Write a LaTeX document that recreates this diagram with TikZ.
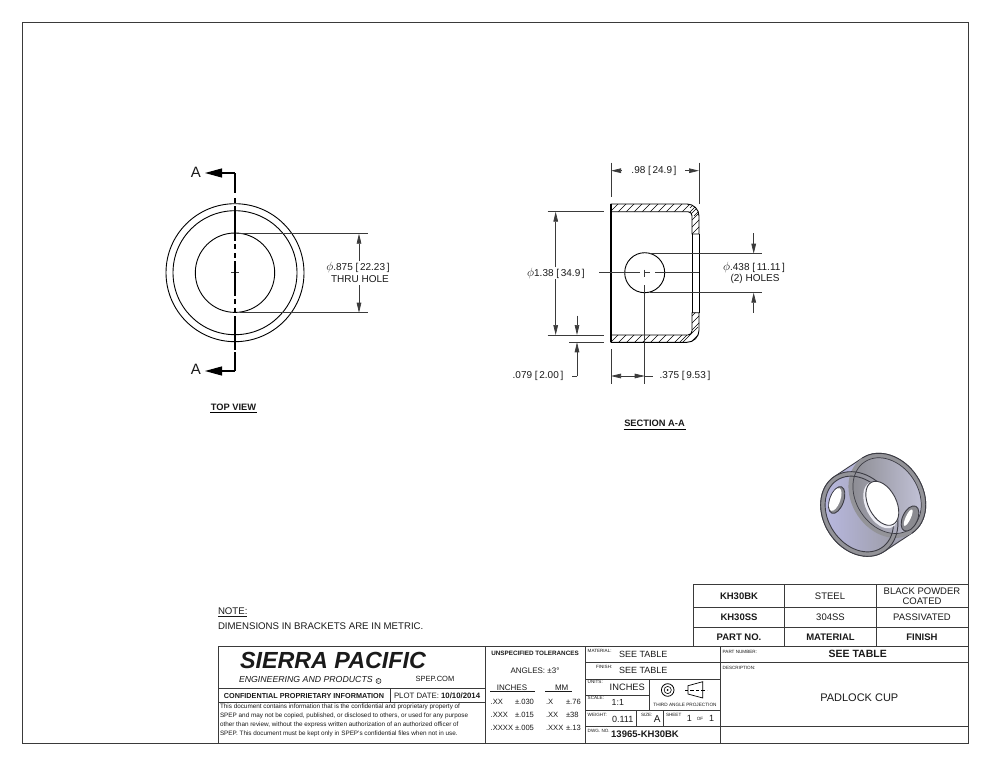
\documentclass[tikz,border=0pt]{standalone}
\usepackage{fontspec}
\setmainfont{Liberation Sans}
\usetikzlibrary{arrows.meta}
\definecolor{ink}{HTML}{1A1A1A}
\definecolor{dimc}{HTML}{3A3A3A}
\definecolor{isoedge}{HTML}{3C3C44}
\definecolor{isoring}{HTML}{939398}
\definecolor{isoblue}{HTML}{B9B9E2}
\definecolor{isolow}{HTML}{9C9CA6}
\definecolor{isoface}{HTML}{8A8A90}
\definecolor{isopale}{HTML}{C4C4DA}
\newcommand{\fs}[1]{\fontsize{#1}{#1}\selectfont}
\newcommand{\phisym}{{\fontsize{12}{12}\selectfont$\phi$}}
\newcommand{\Tc}[5][]{\node[tx,#1] (#2) at (#3,#4) {#5};}
\newcommand{\Tl}[5][]{\node[tx,anchor=west,#1] (#2) at (#3,#4) {#5};}
\tikzset{
  tx/.style={inner sep=0pt,outer sep=0pt,text=ink,font=\fs{9.5}},
  dimtx/.style={font=\fs{10}},
  tiny/.style={font=\fs{4.6}},
  obj/.style={draw=black,line width=0.9pt},
  frameline/.style={draw=dimc,line width=1pt},
  dimline/.style={draw=dimc,line width=0.7pt},
  darrow/.style={-{Triangle[length=10pt,width=4.6pt]}},
  bigarrow/.style={-{Triangle[length=17pt,width=9pt]}},
  cutline/.style={draw=black,line width=1.1pt},
  isoline/.style={draw=isoedge,line width=0.9pt},
}
\begin{document}
\begin{tikzpicture}[x=1pt,y=-1pt]
\useasboundingbox (0,0) rectangle (990,765);
\fill[white] (0,0) rectangle (990,765);
% sheet border
\draw[frameline,line width=0.8pt] (22,22) rectangle (968,743);

% ---- top view
\draw[obj] (235,272.7) circle[radius=69];
\draw[obj] (235,272.7) circle[radius=62];
\draw[obj] (235,272.7) circle[radius=39.7];
\draw[dimline] (231,272.7) -- (239,272.7);
\draw[cutline] (235,173) -- (235,193);
\draw[cutline,dash pattern=on 35pt off 3pt on 5pt off 4pt on 5pt off 3pt,dash phase=47pt] (235,198) -- (235,350);
\draw[cutline] (235,352) -- (235,371);
\draw[cutline,bigarrow] (235,173) -- (205,173);
\draw[cutline,bigarrow] (235,371) -- (205,371);
\Tc[font=\fs{15}]{a1}{196}{172}{A}
\Tc[font=\fs{15}]{a2}{196}{369}{A}
\draw[dimline] (237,233.7) -- (367.7,233.7);
\draw[dimline] (240,312.7) -- (367.7,312.7);
\draw[dimline,darrow] (359,261) -- (359,233.7);
\draw[dimline,darrow] (359,285) -- (359,312.7);
\Tc[dimtx]{d1}{358}{267}{\phisym.875 [\,22.23\,]}
\Tc[dimtx]{d2}{360}{279}{THRU HOLE}
\Tc[font=\fs{9.3}\bfseries]{tv}{233.5}{407}{TOP VIEW}
\draw[black,line width=1pt] (210,412.6) -- (257,412.6);

% ---- section A-A
\def\wallA{(611,204) -- (687,204) .. controls (693.6,204) and (699,209.4) .. (699,216) -- (699,234) -- (692,234) -- (692,215.7) .. controls (692,213.5) and (690.2,211.7) .. (688,211.7) -- (611,211.7) -- cycle}
\def\wallB{(611,342.3) -- (687,342.3) .. controls (693.6,342.3) and (699,336.9) .. (699,330.3) -- (699,312.7) -- (692,312.7) -- (692,331) .. controls (692,333.2) and (690.2,335) .. (688,335) -- (611,335) -- cycle}
\begin{scope}
\clip \wallA;
\foreach \i in {0,8,...,104}{\draw[black,line width=0.6pt] (606+\i,216) -- (606+\i+20,196);}
\foreach \i in {0,7,...,35}{\draw[black,line width=0.6pt] (690,236-\i) -- (702,224-\i);}
\end{scope}
\begin{scope}
\clip \wallB;
\foreach \i in {0,8,...,104}{\draw[black,line width=0.6pt] (606+\i,347) -- (606+\i+20,327);}
\foreach \i in {0,7,...,35}{\draw[black,line width=0.6pt] (680,342-\i) -- (702,320-\i);}
\end{scope}
\draw[obj] \wallA;
\draw[obj] \wallB;
\draw[obj,line width=1.2pt] (611,204) -- (611,342.3);
\draw[obj] (692,234) -- (692,312.7);
\draw[obj] (699,234) -- (699,312.7);
\draw[obj] (644.7,272.7) circle[radius=20];
\draw[dimline] (599,272.7) -- (639.5,272.7);
\draw[dimline] (644,272.7) -- (650,272.7);
\draw[dimline] (655,272.7) -- (699,272.7);
\draw[dimline] (644.7,269.5) -- (644.7,276.5);
\draw[dimline] (644.7,285) -- (644.7,384);
% .98
\draw[dimline] (611,162.7) -- (611,197);
\draw[dimline] (699,162.7) -- (699,204);
\draw[dimline,darrow] (621,170.7) -- (611,170.7);
\draw[dimline,darrow] (685,170.7) -- (699,170.7);
\Tc[dimtx]{d3}{654}{171}{.98 [\,24.9\,]}
% 1.38
\draw[dimline] (547.7,211.7) -- (604,211.7);
\draw[dimline] (547.7,335) -- (604,335);
\draw[dimline,darrow] (555.7,267) -- (555.7,211.7);
\draw[dimline,darrow] (555.7,279) -- (555.7,335);
\Tc[dimtx,fill=white]{d4}{556}{273}{\phisym1.38 [\,34.9\,]}
% .079
\draw[dimline] (569,342.3) -- (604,342.3);
\draw[dimline,darrow] (577,315.7) -- (577,335);
\draw[dimline,-{Triangle[length=10pt,width=4.6pt]}] (577,376) -- (577,342.3);
\draw[dimline] (577,376) -- (571.7,376);
\Tc[dimtx]{d5}{538}{376}{.079 [\,2.00\,]}
% .375
\draw[dimline] (611,349) -- (611,384);
\draw[dimline,darrow] (625,376) -- (611,376);
\draw[dimline,darrow] (631,376) -- (644.7,376);
\draw[dimline] (625,376) -- (631,376);
\draw[dimline] (644.7,376) -- (653,376);
\Tc[dimtx]{d6}{685}{376}{.375 [\,9.53\,]}
% .438
\draw[dimline] (650,253.7) -- (762,253.7);
\draw[dimline] (650,292.7) -- (762,292.7);
\draw[dimline,darrow] (753.7,233) -- (753.7,253.7);
\draw[dimline,darrow] (753.7,312.7) -- (753.7,292.7);
\Tc[dimtx]{d7}{754}{267.5}{\phisym.438 [\,11.11\,]}
\Tc[dimtx]{d8}{755}{279}{(2) HOLES}
\Tc[font=\fs{9.3}\bfseries]{sv}{654.5}{423.5}{SECTION A-A}
\draw[black,line width=1pt] (623.5,429) -- (686,429);

% ---- isometric view
\begin{scope}[x=1pt,y=1pt,shift={(859.3pt,-514pt)},rotate=-56.5]
  % cylinder silhouette
  \path[shade,left color=isoblue,right color=isolow,shading angle=0,isoline]
     (-45,0) -- (-45,33.3) arc[start angle=180,end angle=0,x radius=45,y radius=35.5] -- (45,0) arc[start angle=0,end angle=-180,x radius=45,y radius=35.5] -- cycle;
  % lower-left end: ring, then lit interior
  \path[fill=isoring,even odd rule] (0,0) ellipse[x radius=45,y radius=35.5] (0,0) ellipse[x radius=40.5,y radius=31];
  \path[shade,left color=isoblue,right color=isolow] (0,0) ellipse[x radius=40.5,y radius=31];
  % upper-right end: ring and face
  \path[fill=isoring,even odd rule] (0,33.3) ellipse[x radius=45,y radius=35.5] (0,33.3) ellipse[x radius=40.5,y radius=31];
  \path[shade,left color=isoface,right color=isopale] (0,33.3) ellipse[x radius=40.5,y radius=31];
  % outlines
  \draw[isoline] (0,0) ellipse[x radius=40.5,y radius=31];
  \draw[isoline,line width=0.7pt] (0,33.3) ellipse[x radius=40.5,y radius=31];
  \draw[isoline] (-45,33.3) arc[start angle=180,end angle=0,x radius=45,y radius=35.5];
  \draw[isoline] (0,0) ellipse[x radius=45,y radius=35.5];
\end{scope}
% through hole
\begin{scope}[x=1pt,y=1pt,shift={(880.8pt,-505pt)},rotate=-63]
  \path[fill=white!70!isopale] (0,0) ellipse[x radius=25,y radius=15];
\end{scope}
\begin{scope}[x=1pt,y=1pt,shift={(882.3pt,-503.3pt)},rotate=-63]
  \path[fill=white,isoline] (0,0) ellipse[x radius=23.7,y radius=14];
\end{scope}
\begin{scope}[x=1pt,y=1pt,shift={(836.7pt,-500pt)},rotate=70]
  \path[fill=isoface,isoline] (0,0) ellipse[x radius=14,y radius=7];
  \path[fill=white] (0,1.5) ellipse[x radius=12,y radius=5];
\end{scope}
\begin{scope}[x=1pt,y=1pt,shift={(910pt,-518.5pt)},rotate=65]
  \path[fill=isoface,isoline] (0,0) ellipse[x radius=13.5,y radius=7.5];
  \path[fill=white] (0,2) ellipse[x radius=9,y radius=2.5];
\end{scope}

% ---- finish table
\draw[frameline] (693.3,584.3) -- (968,584.3);
\draw[frameline] (693.3,607.7) -- (968,607.7);
\draw[frameline] (693.3,627.3) -- (968,627.3);
\draw[frameline] (693.3,584.3) -- (693.3,646);
\draw[frameline] (784.3,584.3) -- (784.3,646);
\draw[frameline] (876.7,584.3) -- (876.7,646);
\Tc[font=\fs{9.5}\bfseries]{k1}{739}{596.7}{KH30BK}
\Tc[font=\fs{9.5}]{k2}{830}{596.7}{STEEL}
\Tc[font=\fs{9.5}]{k3}{922}{591.7}{BLACK POWDER}
\Tc[font=\fs{9.5}]{k4}{922}{601}{COATED}
\Tc[font=\fs{9.5}\bfseries]{k5}{739}{617.7}{KH30SS}
\Tc[font=\fs{9.5}]{k6}{830.5}{617.7}{304SS}
\Tc[font=\fs{9.5}]{k7}{922}{617.7}{PASSIVATED}
\Tc[font=\fs{9.5}\bfseries]{k8}{739}{637.3}{PART NO.}
\Tc[font=\fs{9.5}\bfseries]{k9}{830.5}{637.3}{MATERIAL}
\Tc[font=\fs{9.5}\bfseries]{k10}{922}{637.3}{FINISH}

% ---- notes
\Tl[font=\fs{9.65}]{n1}{218}{611}{NOTE:}
\draw[ink,line width=0.7pt] (218,616.5) -- (247,616.5);
\Tl[font=\fs{9.65}]{n2}{218}{626}{DIMENSIONS IN BRACKETS ARE IN METRIC.}

% ---- title block
\draw[frameline] (218,646) rectangle (968,743);
\draw[frameline] (485,646) -- (485,743);
\draw[frameline] (585,646) -- (585,743);
\draw[frameline] (720,646) -- (720,743);
\draw[frameline] (218,688) -- (485,688);
\draw[frameline] (218,702.7) -- (485,702.7);
\draw[frameline] (390,688) -- (390,702.7);
\draw[frameline] (585,662.7) -- (720,662.7);
\draw[frameline] (585,679) -- (720,679);
\draw[frameline] (585,695) -- (649,695);
\draw[frameline] (649,679) -- (649,710.7);
\draw[frameline] (585,710.7) -- (720,710.7);
\draw[frameline] (636.7,710.7) -- (636.7,726.7);
\draw[frameline] (663,710.7) -- (663,726.7);
\draw[frameline] (585,726.7) -- (720,726.7);
\draw[frameline] (720,662.3) -- (968,662.3);
\draw[frameline] (720,726.7) -- (968,726.7);

\Tc[font=\fs{23.3}\bfseries\itshape]{s1}{333}{660}{SIERRA PACIFIC}
\Tl[font=\fs{8.75}\itshape]{s2}{239}{679.3}{ENGINEERING AND PRODUCTS}
\node[circle,draw=ink,line width=0.5pt,inner sep=0.5pt,text=ink,font=\fs{3.6}] (s3) at (378.5,681) {C};
\Tc[font=\fs{7.5}]{s4}{435}{678.5}{SPEP.COM}
\Tc[font=\fs{7.25}\bfseries]{c1}{304}{695.7}{CONFIDENTIAL PROPRIETARY INFORMATION}
\Tl[font=\fs{7.8}]{c2}{394}{695.7}{PLOT DATE: \textbf{10/10/2014}}
\Tl[font=\fs{6.35}]{p1}{220}{706.7}{This document contains information that is the confidential and proprietary property of}
\Tl[font=\fs{6.35}]{p2}{220}{715.9}{SPEP and may not be copied, published, or disclosed to others, or used for any purpose}
\Tl[font=\fs{6.35}]{p3}{220}{725.1}{other than review, without the express written authorization of an authorized officer of}
\Tl[font=\fs{6.35}]{p4}{220}{734.3}{SPEP. This document must be kept only in SPEP's confidential files when not in use.}

\Tc[font=\fs{6.3}\bfseries]{u1}{535}{653.3}{UNSPECIFIED TOLERANCES}
\Tc[font=\fs{8}]{u2}{535}{671}{ANGLES:  ±3°}
\Tc[font=\fs{8}]{u3}{512}{687.7}{INCHES}
\Tc[font=\fs{8}]{u4}{561.7}{687.7}{MM}
\draw[ink,line width=0.7pt] (490,691.7) -- (535,691.7);
\draw[ink,line width=0.7pt] (545,691.7) -- (572,691.7);
\Tl[font=\fs{7.6}]{v1}{490.7}{701.7}{.XX}
\Tl[font=\fs{7.6}]{v2}{515}{701.7}{±.030}
\Tl[font=\fs{7.6}]{v3}{546}{701.7}{.X}
\Tl[font=\fs{7.6}]{v4}{566}{701.7}{±.76}
\Tl[font=\fs{7.6}]{v5}{490.7}{714.7}{.XXX}
\Tl[font=\fs{7.6}]{v6}{515}{714.7}{±.015}
\Tl[font=\fs{7.6}]{v7}{546}{714.7}{.XX}
\Tl[font=\fs{7.6}]{v8}{566}{714.7}{±38}
\Tl[font=\fs{7.6}]{v9}{490.7}{727.7}{.XXXX}
\Tl[font=\fs{7.6}]{v10}{515}{727.7}{±.005}
\Tl[font=\fs{7.6}]{v11}{546}{727.7}{.XXX}
\Tl[font=\fs{7.6}]{v12}{566}{727.7}{±.13}

\Tl[tiny]{m1}{587.7}{651}{MATERIAL:}
\Tl[font=\fs{9}]{m2}{619}{654.7}{SEE TABLE}
\Tl[tiny]{m3}{596}{666.7}{FINISH:}
\Tl[font=\fs{9}]{m4}{619}{670.7}{SEE TABLE}
\Tl[tiny]{m5}{587.7}{682.3}{UNITS:}
\Tc[font=\fs{9.3}]{m6}{627.3}{687.7}{INCHES}
\Tl[tiny]{m7}{587.7}{698}{SCALE:}
\Tl[font=\fs{8.8}]{m8}{611.7}{702.7}{1:1}
\Tc[font=\fs{4.7}]{m9}{685}{705}{THIRD ANGLE PROJECTION}
\Tl[tiny]{m10}{587.7}{715}{WEIGHT:}
\Tc[font=\fs{9}]{m11}{622.7}{719}{0.111}
\Tl[tiny]{m12}{641}{715}{SIZE:}
\Tc[font=\fs{10}]{m13}{657.3}{718.7}{A}
\Tl[tiny]{m14}{666}{715}{SHEET}
\Tc[font=\fs{9}]{m15}{689.3}{718.7}{1}
\Tc[tiny]{m16}{700}{718.7}{OF}
\Tc[font=\fs{9}]{m17}{711.7}{718.7}{1}
\Tl[tiny]{m18}{587.7}{730.7}{DWG. NO.}
\Tc[font=\fs{9.5}\bfseries]{m19}{645}{734.7}{13965-KH30BK}
\Tl[tiny]{r1}{722.7}{651.7}{PART NUMBER:}
\Tc[font=\fs{10.5}\bfseries]{r2}{857.7}{654.3}{SEE TABLE}
\Tl[tiny]{r3}{722.7}{668.3}{DESCRIPTION:}
\Tc[font=\fs{11}]{r4}{859.3}{697.7}{PADLOCK CUP}

% third-angle symbol
\draw[black,line width=0.8pt] (667.7,690) circle[radius=6.3];
\draw[black,line width=0.6pt] (667.7,690) circle[radius=3.6];
\fill[black] (667.7,690) circle[radius=1];
\draw[black,line width=0.7pt] (688,685.7) -- (702.7,681.7) -- (702.7,698) -- (688,694) -- cycle;
\draw[black,line width=0.5pt,dash pattern=on 3pt off 2pt on 4pt off 2pt] (685,690) -- (707,690);
\end{tikzpicture}
\end{document}
